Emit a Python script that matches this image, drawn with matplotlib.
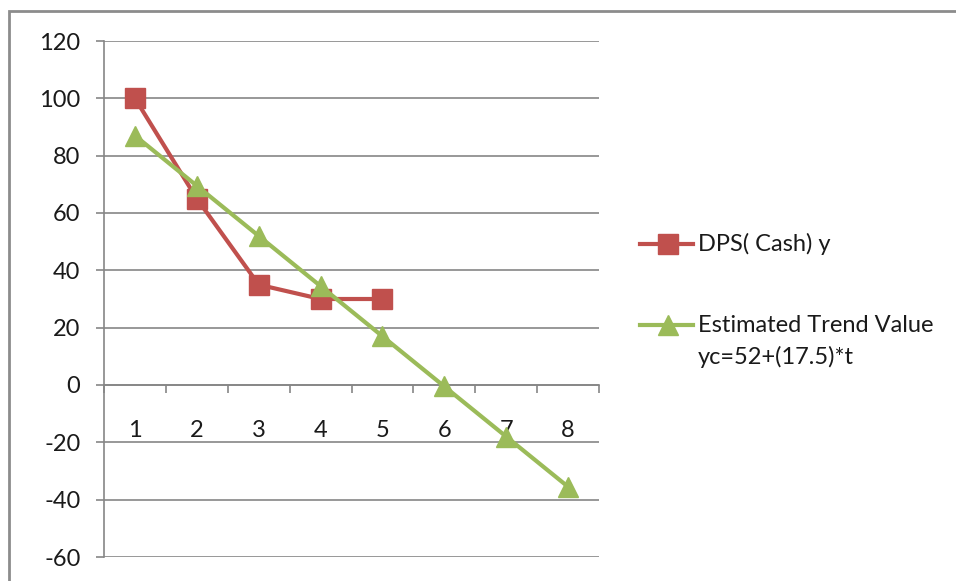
import matplotlib.pyplot as plt
from matplotlib.lines import Line2D
from matplotlib.patches import Rectangle
from matplotlib.ticker import FixedLocator, NullFormatter

# Period numbers and observed / trend dividend values
periods = [1, 2, 3, 4, 5, 6, 7, 8]
dps_cash = [100, 65, 35, 30, 30]
trend_values = [87, 69.5, 52, 34.5, 17, -0.5, -18, -35.5]

dps_label = "DPS( Cash) y"
trend_label = "Estimated Trend Value"
trend_formula = "yc=52+(17.5)*t"

RED = "#C0504D"
GREEN = "#9BBB59"
GRID = "#868686"
FONT = "Lato"
FS = 17
TXT = "#1a1a1a"

plt.rcParams["axes.unicode_minus"] = False

W, H = 956, 581
fig = plt.figure(figsize=(W / 100, H / 100), dpi=100)

# outer chart border (runs off the right and bottom edges)
fig.add_artist(Rectangle((9 / W, -0.1), 1.2, 1 - 11 / H + 0.1,
                         transform=fig.transFigure, fill=False,
                         edgecolor="#8C8C8C", linewidth=2))

ax = fig.add_axes([104 / W, 1 - 557 / H, (599 - 104) / W, (557 - 41) / H])

ax.plot(periods[:len(dps_cash)], dps_cash, color=RED, linewidth=3,
        marker="s", markersize=14, zorder=3)
ax.plot(periods, trend_values, color=GREEN, linewidth=3,
        marker="^", markersize=14, zorder=4)

ax.set_xlim(0.5, len(periods) + 0.5)
ax.set_ylim(-60, 120)
ax.set_yticks(range(-60, 121, 20))
ax.yaxis.grid(True, color=GRID, linewidth=1.2)
ax.set_axisbelow(True)

for s in ["top", "right"]:
    ax.spines[s].set_visible(False)
ax.spines["left"].set_color(GRID)
ax.spines["left"].set_linewidth(1.2)
ax.spines["bottom"].set_position(("data", 0))
ax.spines["bottom"].set_color(GRID)
ax.spines["bottom"].set_linewidth(1.2)

# category boundaries carry the tick marks, centres carry the labels
ax.xaxis.set_major_locator(FixedLocator([p - 0.5 for p in periods] + [periods[-1] + 0.5]))
ax.xaxis.set_major_formatter(NullFormatter())
ax.set_xticks(periods, minor=True)
ax.set_xticklabels([str(p) for p in periods], minor=True)
ax.tick_params(axis="x", which="major", direction="out", length=6, width=1.2, color=GRID)
ax.tick_params(axis="x", which="minor", length=0, pad=25, labelsize=FS)
ax.tick_params(axis="y", direction="out", length=6, width=1.2, color=GRID,
               pad=11, labelsize=FS)
for lbl in ax.get_xticklabels(minor=True) + ax.get_yticklabels():
    lbl.set_fontfamily(FONT)
    lbl.set_color(TXT)

# legend on the right
def legend_entry(y_px, color, marker):
    ys = 1 - y_px / H
    fig.add_artist(Line2D([640 / W, 668 / W, 693 / W], [ys, ys, ys],
                          transform=fig.transFigure, color=color, linewidth=3,
                          marker=marker, markersize=14, markevery=[1]))

legend_entry(244, RED, "s")
legend_entry(325, GREEN, "^")
fig.text(698 / W, 1 - 244 / H, dps_label, fontsize=FS, family=FONT,
         va="center", ha="left", color=TXT)
fig.text(698 / W, 1 - 325 / H, trend_label, fontsize=FS, family=FONT,
         va="center", ha="left", color=TXT)
fig.text(698 / W, 1 - 357 / H, trend_formula, fontsize=FS, family=FONT,
         va="center", ha="left", color=TXT)

fig.savefig("out.png", dpi=100)
